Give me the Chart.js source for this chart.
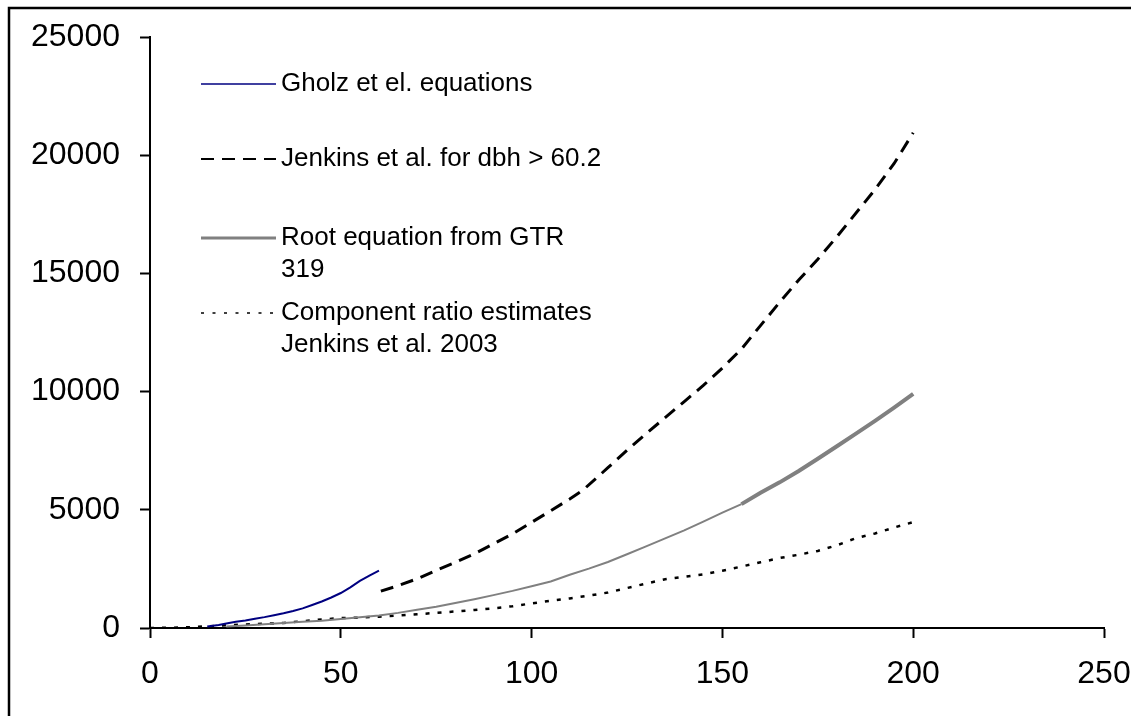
<!DOCTYPE html>
<html>
<head>
<meta charset="utf-8">
<title>Root biomass by dbh</title>
<script src="https://cdn.jsdelivr.net/npm/chart.js@4.4.1/dist/chart.umd.min.js"></script>
<style>
  body { margin: 0; background: #fff; }
  canvas { display: block; }
</style>
</head>
<body>
<canvas id="rootChart" width="1131" height="716"></canvas>
<script>
// axis ticks
var xTicks = [0, 50, 100, 150, 200, 250];
var yTicks = [0, 5000, 10000, 15000, 20000, 25000];

// Gholz et el. equations (small trees)
var gholzX = [15, 18, 20, 22.5, 25, 27.5, 30, 32.5, 35, 37.5, 40, 42.5, 45, 47.5, 50, 52.5, 55, 57.5, 60];
var gholzY = [60, 130, 190, 260, 320, 390, 460, 540, 620, 720, 830, 970, 1120, 1290, 1480, 1720, 1990, 2220, 2430];

// Jenkins et al. for dbh > 60.2
var jenkinsX = [60.5, 65, 70, 75, 80, 85, 90, 95, 100, 105, 110, 113.5, 120, 125, 130, 135, 140, 145, 150, 155, 159, 165, 170, 175, 180, 186, 190, 195, 200];
var jenkinsY = [1560, 1790, 2080, 2440, 2780, 3140, 3560, 3980, 4470, 4960, 5460, 5840, 6780, 7520, 8220, 8900, 9580, 10260, 11000, 11800, 12600, 13780, 14720, 15600, 16550, 17750, 18550, 19650, 20950];

// Root equation from GTR 319
var rootX = [20, 25, 30, 35, 40, 45, 50, 55, 60, 65, 70, 75, 80, 85, 90, 95, 100, 105, 110, 115, 120, 125, 130, 135, 140, 145, 150, 155, 160, 165, 170, 175, 180, 185, 190, 195, 200];
var rootY = [60, 110, 160, 210, 260, 310, 380, 450, 530, 640, 770, 900, 1060, 1220, 1390, 1570, 1770, 1970, 2250, 2510, 2790, 3120, 3450, 3790, 4130, 4500, 4880, 5240, 5720, 6160, 6640, 7160, 7690, 8220, 8760, 9320, 9900];

// Component ratio estimates, Jenkins et al. 2003
var compX = [0, 5, 10, 15, 20, 25, 30, 35, 40, 45, 50, 55, 60, 65, 70, 75, 80, 85, 90, 95, 100, 105, 110, 115, 120, 125, 130, 135, 140, 145, 150, 155, 160, 165, 170, 175, 180, 185, 190, 195, 200];
var compY = [0, 10, 30, 70, 120, 150, 180, 210, 290, 360, 420, 440, 480, 530, 580, 640, 700, 760, 830, 920, 1040, 1150, 1250, 1370, 1500, 1690, 1880, 2060, 2170, 2270, 2420, 2600, 2780, 2960, 3100, 3260, 3500, 3800, 4000, 4250, 4480];

var legendLabels = [
  ['Gholz et el. equations'],
  ['Jenkins et al. for dbh > 60.2'],
  ['Root equation from GTR', '319'],
  ['Component ratio estimates', 'Jenkins et al. 2003']
];

function pts(xs, ys) {
  return xs.map(function (x, i) { return { x: x, y: ys[i] }; });
}

// legend drawn inside the plot, line sample on the left
var legendPlugin = {
  id: 'sideLegend',
  afterDraw: function (chart) {
    var ctx = chart.ctx;
    var rows = [84, 159, 238, 313];
    var styles = [
      { color: '#000080', width: 1.5, dash: [] },
      { color: '#000000', width: 2, dash: [13, 8] },
      { color: '#808080', width: 3, dash: [] },
      { color: '#000000', width: 1.5, dash: [3, 8.5] }
    ];
    ctx.save();
    ctx.font = '26px "Liberation Sans", Arial, sans-serif';
    ctx.textBaseline = 'middle';
    ctx.fillStyle = '#000';
    legendLabels.forEach(function (lines, i) {
      var s = styles[i];
      ctx.beginPath();
      ctx.strokeStyle = s.color;
      ctx.lineWidth = s.width;
      ctx.setLineDash(s.dash);
      ctx.moveTo(201, rows[i]);
      ctx.lineTo(276, rows[i]);
      ctx.stroke();
      lines.forEach(function (t, j) {
        ctx.fillText(t, 281, rows[i] + j * 32);
      });
    });
    ctx.restore();
  }
};

// outer frame, left and top edges
var framePlugin = {
  id: 'frame',
  afterDraw: function (chart) {
    var ctx = chart.ctx;
    ctx.save();
    ctx.strokeStyle = '#000';
    ctx.lineWidth = 2.5;
    ctx.beginPath();
    ctx.moveTo(9, 716);
    ctx.lineTo(9, 8);
    ctx.lineTo(1131, 8);
    ctx.stroke();
    ctx.restore();
  }
};

var ctx = document.getElementById('rootChart').getContext('2d');
var chart = new Chart(ctx, {
  type: 'line',
  data: {
    datasets: [
      {
        label: legendLabels[0].join(' '),
        data: pts(gholzX, gholzY),
        borderColor: '#000080',
        borderWidth: 2
      },
      {
        label: legendLabels[1].join(' '),
        data: pts(jenkinsX, jenkinsY),
        borderColor: '#000000',
        borderWidth: 3,
        borderDash: [13, 8]
      },
      {
        label: legendLabels[2].join(' '),
        data: pts(rootX, rootY),
        borderColor: '#808080',
        borderWidth: 2,
        segment: {
          borderWidth: function (c) { return c.p0.parsed.x >= 153 ? 4 : 2; }
        }
      },
      {
        label: legendLabels[3].join(' '),
        data: pts(compX, compY),
        borderColor: '#000000',
        borderWidth: 2.5,
        borderDash: [4, 8]
      }
    ]
  },
  options: {
    responsive: false,
    animation: false,
    devicePixelRatio: 1,
    elements: { point: { radius: 0 }, line: { tension: 0 } },
    layout: { padding: { left: 0, right: 27, top: 37, bottom: 0 } },
    plugins: { legend: { display: false }, tooltip: { enabled: false } },
    scales: {
      x: {
        type: 'linear',
        min: 0,
        max: 250,
        afterBuildTicks: function (s) { s.ticks = xTicks.map(function (v) { return { value: v }; }); },
        afterFit: function (s) { s.height = 88; s.paddingLeft = 0; s.paddingRight = 0; },
        border: { color: '#000', width: 2 },
        grid: { drawOnChartArea: false, drawTicks: true, tickLength: 10, tickColor: '#000', tickWidth: 2 },
        ticks: {
          color: '#000',
          padding: 17,
          maxRotation: 0,
          font: { family: '"Liberation Sans", Arial, sans-serif', size: 32 },
          callback: function (v) { return String(v); }
        }
      },
      y: {
        min: 0,
        max: 25000,
        afterBuildTicks: function (s) { s.ticks = yTicks.map(function (v) { return { value: v }; }); },
        afterFit: function (s) { s.width = 150; s.paddingTop = 0; s.paddingBottom = 0; },
        border: { color: '#000', width: 2 },
        grid: { drawOnChartArea: false, drawTicks: true, tickLength: 10, tickColor: '#000', tickWidth: 2 },
        ticks: {
          color: '#000',
          padding: 20,
          font: { family: '"Liberation Sans", Arial, sans-serif', size: 32 },
          callback: function (v) { return String(v); }
        }
      }
    }
  },
  plugins: [legendPlugin, framePlugin]
});
</script>
</body>
</html>
